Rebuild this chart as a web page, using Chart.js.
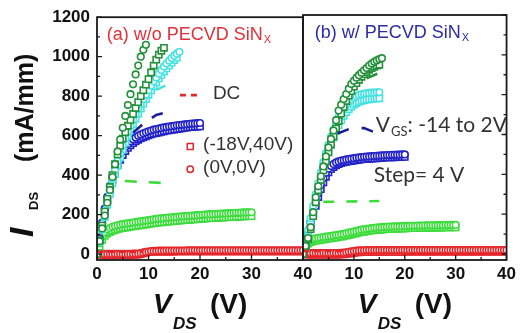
<!DOCTYPE html>
<html>
<head>
<meta charset="utf-8">
<script src="https://cdn.jsdelivr.net/npm/chart.js@4.4.1/dist/chart.umd.min.js"></script>
<style>
  body { margin: 0; background: #fff; }
  #wrap { position: relative; width: 520px; height: 333px; }
  #wrap canvas { position: absolute; left: 0; top: 0; }
</style>
</head>
<body>
<div id="wrap">
  <canvas id="chartA" width="520" height="333"></canvas>
  <canvas id="chartB" width="520" height="333"></canvas>
</div>
<script>
// V_DS grid (V), 0.5 V steps
var vds = [0,0.5,1,1.5,2,2.5,3,3.5,4,4.5,5,5.5,6,6.5,7,7.5,8,8.5,9,9.5,
  10,10.5,11,11.5,12,12.5,13,13.5,14,14.5,15,15.5,16,16.5,17,17.5,18,18.5,19,19.5,
  20,20.5,21,21.5,22,22.5,23,23.5,24,24.5,25,25.5,26,26.5,27,27.5,28,28.5,29,29.5,
  30,30.5,31,31.5,32,32.5,33,33.5,34,34.5,35,35.5,36,36.5,37,37.5,38,38.5,39,39.5,40];
var xTicks = [0, 10, 20, 30, 40];
var yTicks = [0, 200, 400, 600, 800, 1000, 1200];

// (a) w/o PECVD SiNx  -- I_DS in mA/mm
var redSqA = [0,-3,-4,-4,-5,-5,-5,-5,-5,-5, -5,-5,-5,-4,-4,-3,-3,0,4,8,
  10,11,12,12,12,13,13,13,13,13, 13,14,14,14,14,14,14,14,14,14,
  14,14,14,14,14,14,14,14,14,14, 14,14,14,14,14,14,14,14,14,14,
  14,14,14,14,14,14,14,14,14,14, 14,14,14,14,14,14,14,14,14,14, 14];
var redCiA = [0,2,2,1,1,1,1,1,1,1, 1,1,1,1,2,2,3,5,8,11,
  13,15,16,16,17,17,17,18,18,18, 18,18,18,18,18,19,19,19,19,19,
  19,19,19,19,19,19,19,19,19,19, 19,19,19,19,19,19,19,19,19,19,
  19,19,19,19,19,19,19,19,19,19, 19,19,19,19,19,19,19,19,19,19, 19];
var greenSqA = [0,38,72,92,104,112,118,122,126,129, 132,134,136,138,140,142,144,146,148,150,
  152,154,156,158,160,161,162,164,165,166, 167,168,170,171,172,173,174,175,176,177,
  178,179,180,181,182,182,183,184,185,185, 186,187,187,188,189,189,190,191,191,192, 192];
var greenCiA = [0,55,92,112,124,132,138,142,146,149, 152,154,156,158,160,162,164,166,168,170,
  172,174,176,178,180,181,182,184,185,186, 187,188,190,191,192,193,194,195,196,197,
  198,199,200,201,202,202,203,204,205,205, 206,207,207,208,209,209,210,211,211,212, 212];
var blueCiA = [0,80,160,230,290,345,395,435,470,498, 522,542,558,571,582,591,599,606,612,617,
  622,626,630,633,636,639,642,644,646,648, 650,652,654,655,657,658,660,661,662,663, 664];
var blueSqA = [0,70,145,212,270,325,375,415,450,478, 502,522,538,551,562,571,579,586,592,597,
  602,606,610,613,616,619,622,625,627,629, 631,633,635,637,639,641,643,644,645,646, 647];
var cyanCiA = [0,70,140,205,270,325,380,425,470,510, 550,585,620,650,680,708,735,760,785,808,
  830,853,875,895,915,933,950,965,980,993, 1005,1015,1025];
var cyanSqA = [0,62,125,188,250,305,358,405,450,490, 528,563,597,628,657,685,712,737,762,785,
  807,829,850,870,890,908,925,941,956,970, 983,995];
var dkGreenCiA = [0,65,130,195,260,325,390,455,520,580, 640,700,755,810,860,910,955,1000,1035,1060];
var dkGreenSqA = [0,70,145,215,280,340,400,455,505,548, 585,618,650,680,710,740,770,800,830,858,
  886,920,955,985,1010,1030,1045];
// DC curves (a)
var dcRedA = { x: [0, 9], y: [12, 12] };
var dcGreenA = { x: [5.4, 9, 12.8], y: [370, 365, 360] };
var dcBlueA = { x: [7, 9, 11.5, 14], y: [615, 660, 705, 722] };
var dcCyanA = { x: [11.5, 15.5], y: [832, 880] };

// (b) w/ PECVD SiNx
var redSqB = [0,-2,-3,-3,-3,-3,-3,-3,-3,-3, -3,-3,-3,-3,-3,-2,-1,0,2,4,
  6,8,9,10,10,11,11,11,11,11, 11,11,11,11,11,11,11,11,11,11,
  12,12,12,12,12,12,12,12,12,12, 12,12,12,12,12,12,12,12,12,12,
  12,12,12,12,12,12,12,12,12,12, 12,12,12,12,12,12,12,12,12,12, 12];
var redCiB = [0,4,5,5,5,5,5,5,5,5, 5,5,5,5,5,6,7,9,11,13,
  15,17,18,19,19,20,20,20,20,20, 20,20,20,20,20,20,20,20,20,20,
  20,20,20,20,20,20,20,20,20,20, 20,20,20,20,20,20,20,20,20,20,
  20,20,20,20,20,20,20,20,20,20, 20,20,20,20,20,20,20,20,20,20, 20];
var greenSqB = [0,34,52,60,64,67,69,71,73,75, 77,79,81,83,85,87,89,92,95,98,
  101,104,107,110,112,114,116,118,120,121, 122,123,124,125,126,126,127,127,128,128,
  129,129,130,130,130,131,131,131,132,132, 132,132,133,133,133,133,134,134,134,134, 134];
var greenCiB = [0,46,64,72,76,79,81,83,85,87, 89,91,93,95,97,99,101,104,107,110,
  113,116,119,122,124,126,128,130,132,133, 134,135,136,137,138,138,139,139,140,140,
  141,141,142,142,142,143,143,143,144,144, 144,144,145,145,145,145,146,146,146,146, 146];
var blueCiB = [0,55,110,162,212,260,305,345,380,408, 428,442,452,460,465,469,472,475,477,479,
  481,483,485,487,488,489,490,491,492,493, 494,495,496,497,497,498,498,499,499,500, 500];
var blueSqB = [0,45,98,148,196,242,286,326,360,388, 410,426,437,445,451,456,460,463,465,467,
  469,471,473,475,476,477,478,479,480,481, 482,483,484,485,485,486,486,487,487,488, 488];
var cyanCiB = [0,60,120,180,240,300,355,410,460,505, 548,588,625,658,688,713,735,752,766,777,
  786,793,798,802,805,807,809,810,811,812, 812];
var cyanSqB = [0,52,106,162,218,275,328,380,428,472, 513,551,586,618,647,672,694,712,727,740,
  750,758,764,769,772,775,777,779,780,781, 782];
var dkGreenCiB = [0,40,80,135,210,285,340,390,440,490, 535,578,620,672,720,750,778,803,830,853,
  870,885,898,910,922,934,946,956,965,972, 978,983];
var dkGreenSqB = [0,35,75,125,190,260,320,372,420,466, 510,550,590,630,668,705,738,768,795,818,
  840,858,875,890,903,914,925,933,940,946, 950];
// DC curves (b)
var dcRedB = { x: [0, 8], y: [15, 15] };
var dcGreenB = { x: [4, 15], y: [262, 266] };
var dcBlueB = { x: [6.8, 9.5, 12, 14.2], y: [605, 632, 632, 610] };
var dcDkGreenB = { x: [12.5, 14.6], y: [882, 905] };

var RED = '#e5262b', GREEN = '#3cdc3c', BLUE = '#2323c8', CYAN = '#45e2e2', DKGREEN = '#23903a', NAVY = '#1c1c9c';
var FONT = '"Liberation Sans", Arial, sans-serif';

function pts(ys) {
  return ys.map(function (v, i) { return { x: vds[i], y: v }; });
}
function markers(ys, color, style) {
  return {
    data: pts(ys), showLine: false, pointStyle: style,
    pointRadius: style === 'rect' ? 4.4 : 3.3,
    pointBorderColor: color, pointBackgroundColor: '#fff', pointBorderWidth: 1.6
  };
}
function dc(c, color, dash) {
  return {
    data: c.x.map(function (v, i) { return { x: v, y: c.y[i] }; }),
    showLine: true, borderColor: color, borderWidth: 2.6, borderDash: dash,
    pointRadius: 0, fill: false
  };
}

function drawFrame(chart, side) {
  var ctx = chart.ctx, a = chart.chartArea, x = chart.scales.x, y = chart.scales.y;
  ctx.save();
  ctx.strokeStyle = '#1a1a1a';
  ctx.lineWidth = 1.3;
  ctx.beginPath();
  var ex = side === 'left' ? a.left : a.right, dir = side === 'left' ? 1 : -1;
  for (var v = 0; v <= 1200; v += 100) {
    var py = y.getPixelForValue(v);
    var len = v % 200 === 0 ? 5 : 3;
    ctx.moveTo(ex, py); ctx.lineTo(ex + dir * len, py);
  }
  for (var u = 0; u <= 40; u += 5) {
    var px = x.getPixelForValue(u);
    ctx.moveTo(px, a.bottom); ctx.lineTo(px, a.bottom - (u % 10 === 0 ? 5 : 3));
  }
  ctx.stroke();
  ctx.lineWidth = 1.8;
  ctx.strokeRect(a.left, a.top, a.right - a.left, a.bottom - a.top);
  ctx.restore();
}

function drawXTitle(chart) {
  var ctx = chart.ctx, a = chart.chartArea;
  var x0 = (a.left + a.right) / 2 - 47;
  ctx.save();
  ctx.fillStyle = '#111';
  ctx.textAlign = 'left';
  ctx.textBaseline = 'alphabetic';
  ctx.font = 'italic bold 28px ' + FONT;
  ctx.fillText('V', x0, 313);
  ctx.font = 'italic bold 17px ' + FONT;
  ctx.fillText('DS', x0 + 20, 329);
  ctx.font = 'bold 28px ' + FONT;
  ctx.fillText('(V)', x0 + 57, 313);
  ctx.restore();
}

function label(ctx, txt, sub, tail, px, py, size, subSize, font, color) {
  ctx.fillStyle = color;
  ctx.textAlign = 'left';
  ctx.textBaseline = 'middle';
  ctx.font = size + 'px ' + font;
  ctx.fillText(txt, px, py);
  var w = ctx.measureText(txt).width;
  if (sub) {
    ctx.font = subSize + 'px ' + font;
    ctx.fillText(sub, px + w + 1, py + size * 0.3);
    w += ctx.measureText(sub).width + 1;
  }
  if (tail) {
    ctx.font = size + 'px ' + font;
    ctx.fillText(tail, px + w, py);
  }
}

var annoA = {
  id: 'annoA',
  afterDraw: function (chart) {
    var ctx = chart.ctx, x = chart.scales.x, y = chart.scales.y;
    drawFrame(chart, 'left');
    drawXTitle(chart);
    ctx.save();
    // y title
    ctx.fillStyle = '#111';
    ctx.textAlign = 'left';
    ctx.textBaseline = 'alphabetic';
    ctx.translate(33, 250);
    ctx.rotate(-Math.PI / 2);
    ctx.font = 'italic bold 34px ' + FONT;
    ctx.fillText('I', 13, 0);
    ctx.font = 'bold 13px ' + FONT;
    ctx.fillText('DS', 40, 5);
    ctx.font = 'bold 25px ' + FONT;
    ctx.fillText('(mA/mm)', 88, 0);
    ctx.restore();

    ctx.save();
    label(ctx, '(a) w/o PECVD SiN', 'X', '', x.getPixelForValue(1.9), y.getPixelForValue(1110), 18, 11, FONT, '#e0303a');
    // legend
    ctx.strokeStyle = RED;
    ctx.lineWidth = 2.6;
    ctx.setLineDash([6, 5]);
    ctx.beginPath();
    ctx.moveTo(x.getPixelForValue(16.1), y.getPixelForValue(805));
    ctx.lineTo(x.getPixelForValue(19.6), y.getPixelForValue(805));
    ctx.stroke();
    ctx.setLineDash([]);
    label(ctx, 'DC', '', '', x.getPixelForValue(22.5), y.getPixelForValue(810), 19, 0, FONT, '#333');
    ctx.lineWidth = 1.5;
    var sx = x.getPixelForValue(18.1), sy = y.getPixelForValue(545);
    ctx.strokeRect(sx - 3, sy - 3, 6, 6);
    ctx.beginPath();
    ctx.arc(sx, y.getPixelForValue(430), 3.2, 0, Math.PI * 2);
    ctx.stroke();
    label(ctx, '(-18V,40V)', '', '', x.getPixelForValue(20.6), y.getPixelForValue(555), 19, 0, FONT, '#333');
    label(ctx, '(0V,0V)', '', '', x.getPixelForValue(20.6), y.getPixelForValue(435), 19, 0, FONT, '#333');
    ctx.restore();
  }
};

var annoB = {
  id: 'annoB',
  afterDraw: function (chart) {
    var ctx = chart.ctx, x = chart.scales.x, y = chart.scales.y;
    drawFrame(chart, 'right');
    drawXTitle(chart);
    ctx.save();
    label(ctx, '(b) w/ PECVD SiN', 'X', '', x.getPixelForValue(2.3), y.getPixelForValue(1110), 18, 11, FONT, '#2b2ba8');
    label(ctx, 'V', 'GS', ': -14 to 2V', x.getPixelForValue(14.3), y.getPixelForValue(645), 21, 13, 'Lato, sans-serif', '#333');
    label(ctx, 'Step= 4 V', '', '', x.getPixelForValue(13.9), y.getPixelForValue(395), 21, 0, 'Lato, sans-serif', '#333');
    ctx.restore();
  }
};

function options(padding, showY, hideZero) {
  var tickFont = { family: FONT, size: 17, weight: 'bold' };
  var yAxis = {
    type: 'linear', min: -30, max: 1200, display: showY,
    afterBuildTicks: function (s) { s.ticks = yTicks.map(function (v) { return { value: v }; }); },
    grid: { display: false, drawTicks: false }, border: { display: false },
    ticks: { padding: 7, color: '#111', font: tickFont, callback: function (v) { return String(v); } }
  };
  if (showY) yAxis.afterFit = function (s) { s.width = 97; };
  return {
    responsive: false, animation: false, devicePixelRatio: 1,
    layout: { padding: padding },
    plugins: { legend: { display: false }, tooltip: { enabled: false } },
    scales: {
      x: {
        type: 'linear', min: 0, max: 40,
        afterFit: function (s) { s.height = 73; },
        afterBuildTicks: function (s) { s.ticks = xTicks.map(function (v) { return { value: v }; }); },
        grid: { display: false, drawTicks: false }, border: { display: false },
        ticks: {
          padding: 4, color: '#111', font: tickFont, maxRotation: 0, autoSkip: false,
          callback: function (v) { return (hideZero && v === 0) ? '' : String(v); }
        }
      },
      y: yAxis
    }
  };
}

new Chart(document.getElementById('chartA'), {
  type: 'scatter',
  data: {
    datasets: [
      dc(dcGreenA, GREEN, [12, 12]),
      dc(dcBlueA, NAVY, [12, 12]),
      dc(dcCyanA, CYAN, [10, 14]),
      dc(dcRedA, RED, [6, 5]),
      markers(dkGreenCiA, DKGREEN, 'circle'),
      markers(dkGreenSqA, DKGREEN, 'rect'),
      markers(cyanCiA, CYAN, 'circle'),
      markers(cyanSqA, CYAN, 'rect'),
      markers(blueCiA, BLUE, 'circle'),
      markers(blueSqA, BLUE, 'rect'),
      markers(greenCiA, GREEN, 'circle'),
      markers(greenSqA, GREEN, 'rect'),
      markers(redCiA, RED, 'circle'),
      markers(redSqA, RED, 'rect')
    ]
  },
  options: options({ left: 0, right: 217, top: 15, bottom: 0 }, true, false),
  plugins: [annoA]
});

new Chart(document.getElementById('chartB'), {
  type: 'scatter',
  data: {
    datasets: [
      dc(dcGreenB, GREEN, [11, 12]),
      dc(dcBlueB, NAVY, [12, 13]),
      dc(dcDkGreenB, DKGREEN, [12, 12]),
      dc(dcRedB, RED, [6, 5]),
      markers(dkGreenCiB, DKGREEN, 'circle'),
      markers(dkGreenSqB, DKGREEN, 'rect'),
      markers(cyanCiB, CYAN, 'circle'),
      markers(cyanSqB, CYAN, 'rect'),
      markers(blueCiB, BLUE, 'circle'),
      markers(blueSqB, BLUE, 'rect'),
      markers(greenCiB, GREEN, 'circle'),
      markers(greenSqB, GREEN, 'rect'),
      markers(redCiB, RED, 'circle'),
      markers(redSqB, RED, 'rect')
    ]
  },
  options: options({ left: 303, right: 10, top: 15, bottom: 0 }, false, true),
  plugins: [annoB]
});
</script>
</body>
</html>
